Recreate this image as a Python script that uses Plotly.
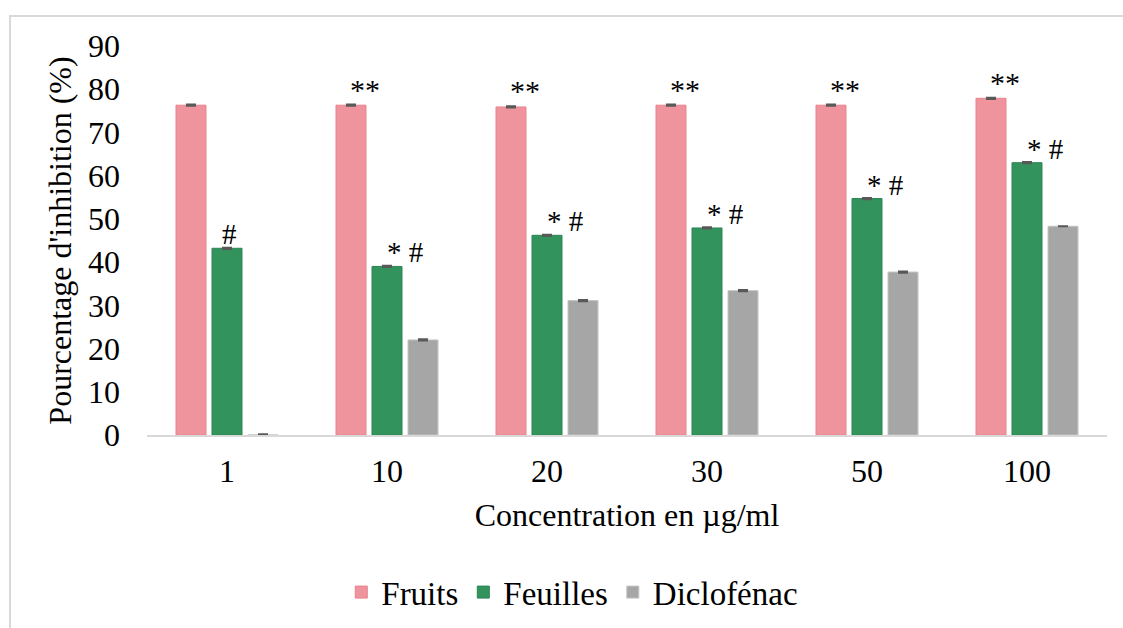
import plotly.graph_objects as go

# Concentrations tested (µg/ml)
concentrations = ["1", "10", "20", "30", "50", "100"]

# Inhibition percentages
fruits = [76.3, 76.3, 75.9, 76.3, 76.3, 77.9]
feuilles = [43.2, 39.0, 46.2, 47.9, 54.7, 63.0]
diclofenac = [0.0, 22.0, 31.1, 33.4, 37.7, 48.3]

# Standard errors
fruits_err = [0.15, 0.15, 0.15, 0.15, 0.15, 0.15]
feuilles_err = [0.15, 0.15, 0.15, 0.15, 0.15, 0.15]
diclofenac_err = [0.15, 0.15, 0.15, 0.15, 0.15, 0.0]

# Significance marks
fruits_marks = ["", "**", "**", "**", "**", "**"]
feuilles_marks = ["#", "* #", "* #", "* #", "* #", "* #"]

FONT = "Liberation Serif, Times New Roman, serif"
ERR_COLOR = "#595959"

series = [
    ("Fruits", fruits, fruits_err, "#EF949D", "#E8828C"),
    ("Feuilles", feuilles, feuilles_err, "#33935D", "#2C8453"),
    ("Diclofénac", diclofenac, diclofenac_err, "#A6A6A6", "#C4C4C4"),
]

fig = go.Figure()
for name, vals, errs, fill, edge in series:
    fig.add_trace(go.Bar(
        name=name,
        x=concentrations,
        y=vals,
        marker=dict(color=fill, line=dict(color=edge, width=1)),
        error_y=dict(type="data", array=errs, visible=True,
                     color=ERR_COLOR, thickness=2, width=5),
    ))

# Category positions on the axis are 0..n-1
annotations = []
for i, (val, mark) in enumerate(zip(fruits, fruits_marks)):
    if mark:
        annotations.append(dict(
            x=i, y=val, xref="x", yref="y", text=mark, showarrow=False,
            xshift=-22, yshift=16, yanchor="middle",
            font=dict(family=FONT, size=30, color="black"),
        ))
for i, (val, mark) in enumerate(zip(feuilles, feuilles_marks)):
    if mark:
        annotations.append(dict(
            x=i, y=val, xref="x", yref="y", text=mark, showarrow=False,
            xshift=2 if mark == "#" else 18, yshift=14, yanchor="middle",
            font=dict(family=FONT, size=29, color="black"),
        ))

fig.update_layout(
    width=1123,
    height=628,
    margin=dict(l=147, r=16, t=46, b=193, autoexpand=False),
    paper_bgcolor="white",
    plot_bgcolor="white",
    font=dict(family=FONT, size=32, color="black"),
    barmode="group",
    bargap=0.325,
    bargroupgap=0.167,
    showlegend=True,
    legend=dict(
        orientation="h",
        x=0.443, xanchor="center",
        y=-0.404, yanchor="middle",
        font=dict(family=FONT, size=33, color="black"),
        itemwidth=30,
        traceorder="normal",
    ),
    xaxis=dict(
        type="category",
        range=[-0.5, len(concentrations) - 0.5],
        automargin=False,
        showline=True, linecolor="#D9D9D9", linewidth=2,
        ticks="", showgrid=False, zeroline=False,
        ticklabelstandoff=7,
        title=dict(text="Concentration en µg/ml", standoff=15,
                   font=dict(family=FONT, size=32)),
    ),
    yaxis=dict(
        range=[0, 90],
        automargin=False,
        tickvals=[0, 10, 20, 30, 40, 50, 60, 70, 80, 90],
        showline=False, showgrid=False, zeroline=False, ticks="",
        ticklabelstandoff=26,
        title=dict(text="Pourcentage d'inhibition (%)", standoff=6,
                   font=dict(family=FONT, size=32)),
    ),
    annotations=annotations,
    shapes=[dict(
        type="rect", xref="paper", yref="paper",
        x0=-0.1427, x1=1.03, y0=-0.55, y1=1.0771,
        line=dict(color="#D9D9D9", width=2), fillcolor="rgba(0,0,0,0)",
        layer="below",
    )],
)

fig.write_html("out.html")
